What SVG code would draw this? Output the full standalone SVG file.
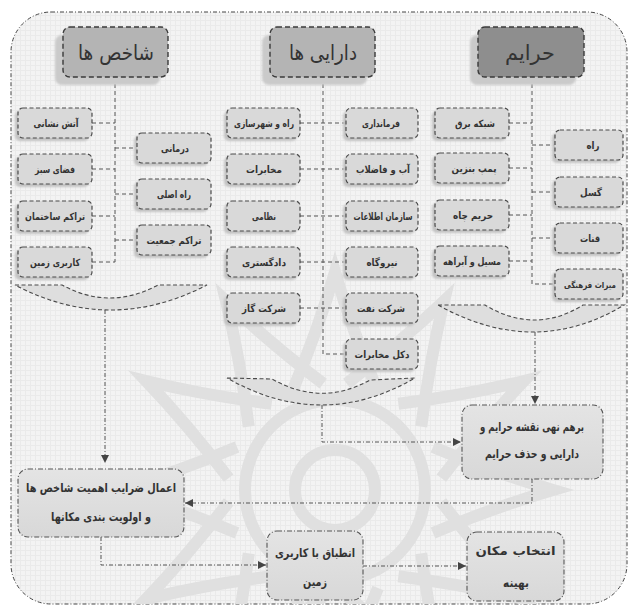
<svg xmlns="http://www.w3.org/2000/svg" xmlns:xlink="http://www.w3.org/1999/xlink" width="632" height="608" viewBox="0 0 632 608">
<defs>
<pattern id="grid" width="5" height="5" patternUnits="userSpaceOnUse">
<rect width="5" height="5" fill="#f3f3f3"/>
<path d="M0,0.5 H5 M0.5,0 V5" stroke="#eaeaea" stroke-width="1"/>
</pattern>
<marker id="arr" markerUnits="userSpaceOnUse" markerWidth="9" markerHeight="9" refX="8" refY="4.5" orient="auto">
<path d="M0,0.5 L8,4.5 L0,8.5 z" fill="#444"/>
</marker>
<filter id="blur" x="-20%" y="-20%" width="140%" height="140%"><feGaussianBlur stdDeviation="1.2"/></filter>
<linearGradient id="lg" x1="0" y1="0" x2="0" y2="1"><stop offset="0" stop-color="#e4e4e4"/><stop offset="1" stop-color="#d8d8d8"/></linearGradient>
<path id="petal" d="M292,392 Q318,330 335,272 Q352,330 378,392"/>
<clipPath id="fc"><rect x="11" y="12" width="616" height="592" rx="40"/></clipPath>
<style>
.frame{fill:url(#grid);stroke:#444;stroke-width:1;stroke-dasharray:4 2 1 2}
.hdr{stroke:#3a3a3a;stroke-width:1.4;stroke-dasharray:5 3}
.hsh{fill:#cacaca;filter:url(#blur)}
.box{fill:#d9d9d9;stroke:#4a4a4a;stroke-width:1.2;stroke-dasharray:4 2.5}
.shd{fill:#c3c3c3;filter:url(#blur)}
.big{fill:url(#lg);stroke:#555;stroke-width:1.1;stroke-dasharray:5 2 1 2}
.bowl{fill:#dedede;stroke:#4a4a4a;stroke-width:1.1;stroke-dasharray:4 2.5}
.conn{fill:none;stroke:#555;stroke-width:1;stroke-dasharray:4 3}
.arr{fill:none;stroke:#555;stroke-width:1;stroke-dasharray:4 2 1 2;marker-end:url(#arr)}
.wm{fill:none;stroke:#e0e0e0;stroke-width:12}
.t{font-family:"DejaVu Sans",sans-serif;font-weight:bold;font-size:10px;fill:#333;text-anchor:start}
.h{font-family:"DejaVu Sans",sans-serif;font-size:21px;fill:#333;text-anchor:start}
.b{font-family:"DejaVu Sans",sans-serif;font-weight:bold;font-size:12px;fill:#333;text-anchor:start}
</style>
</defs>
<rect x="0" y="0" width="632" height="608" fill="#ffffff"/>
<rect class="frame" x="11" y="12" width="616" height="592" rx="40"/>
<g id="watermark" clip-path="url(#fc)">
<use href="#petal" class="wm"/>
<use href="#petal" class="wm" transform="rotate(30 335 490)"/>
<use href="#petal" class="wm" transform="rotate(60 335 490)"/>
<use href="#petal" class="wm" transform="rotate(90 335 490)"/>
<use href="#petal" class="wm" transform="rotate(120 335 490)"/>
<use href="#petal" class="wm" transform="rotate(150 335 490)"/>
<use href="#petal" class="wm" transform="rotate(180 335 490)"/>
<use href="#petal" class="wm" transform="rotate(210 335 490)"/>
<use href="#petal" class="wm" transform="rotate(240 335 490)"/>
<use href="#petal" class="wm" transform="rotate(270 335 490)"/>
<use href="#petal" class="wm" transform="rotate(300 335 490)"/>
<use href="#petal" class="wm" transform="rotate(330 335 490)"/>
<circle class="wm" cx="335" cy="490" r="90"/>
<circle class="wm" cx="335" cy="490" r="40"/>
</g>

<g id="connectors">
<path class="conn" d="M115,77 V262 M92,123 H115 M92,169 H115 M92,216 H115 M92,262 H115 M115,148 H137 M115,194 H137 M115,240 H137"/>
<path class="conn" d="M323,77 V354 H346 M300,123 H346 M300,169 H346 M300,216 H346 M300,262 H346 M300,308 H346"/>
<path class="conn" d="M532,77 V284 H555 M509,123 H532 M509,168 H532 M509,215 H532 M509,261 H532 M532,145 H555 M532,192 H555 M532,238 H555"/>
<path class="arr" d="M105,310 V463"/>
<path class="arr" d="M322,405 V442 H461"/>
<path class="arr" d="M535,332 V404"/>
<path class="arr" d="M532,479 V503 H185"/>
<path class="arr" d="M101,537 V565 H266"/>
<path class="arr" d="M363,566 H466"/>
</g>

<g id="bowls">
<path id="bowl-shakhes" class="bowl" d="M15,285 L62,285 Q110,311 158,285 L207,285 Q110,335 15,285 Z"/>
<path id="bowl-darayi" class="bowl" d="M227,378 L272,379 Q322,407 370,380 L415,378 Q322,432 227,378 Z"/>
<path id="bowl-harim" class="bowl" d="M438,305 L485,305 Q535,335 583,305 L624,305 Q535,359 438,305 Z"/>
</g>

<g id="h-shakhes"><rect class="hsh" x="55" y="35" width="105" height="50" rx="7"/><rect class="hdr" x="63" y="27" width="105" height="50" rx="7" fill="#b4b4b4"/><text class="h" x="78" y="60" textLength="76" lengthAdjust="spacingAndGlyphs">شاخص ها</text></g>
<g id="h-darayi"><rect class="hsh" x="262" y="35" width="105" height="50" rx="7"/><rect class="hdr" x="270" y="27" width="105" height="50" rx="7" fill="#b4b4b4"/><text class="h" x="289" y="60" textLength="68" lengthAdjust="spacingAndGlyphs">دارایی ها</text></g>
<g id="h-harim"><rect class="hsh" x="470" y="35" width="106" height="50" rx="7"/><rect class="hdr" x="478" y="27" width="106" height="50" rx="7" fill="#8e8e8e"/><text class="h" x="505" y="60" textLength="50" lengthAdjust="spacingAndGlyphs">حرایم</text></g>

<g id="n-atash"><rect class="shd" x="15" y="111" width="74" height="30" rx="5"/><rect class="box" x="18" y="108" width="74" height="30" rx="5"/><text class="t" x="33.5" y="126.5" textLength="45" lengthAdjust="spacingAndGlyphs">آتش نشانی</text></g>
<g id="n-fazasabz"><rect class="shd" x="15" y="157" width="74" height="30" rx="5"/><rect class="box" x="18" y="154" width="74" height="30" rx="5"/><text class="t" x="35" y="172.5" textLength="40" lengthAdjust="spacingAndGlyphs">فضای سبز</text></g>
<g id="n-tarakom-sakhteman"><rect class="shd" x="15" y="204" width="74" height="30" rx="5"/><rect class="box" x="18" y="201" width="74" height="30" rx="5"/><text class="t" x="25" y="219.5" textLength="60" lengthAdjust="spacingAndGlyphs">تراکم ساختمان</text></g>
<g id="n-karbari"><rect class="shd" x="15" y="250" width="74" height="30" rx="5"/><rect class="box" x="18" y="247" width="74" height="30" rx="5"/><text class="t" x="30" y="265.5" textLength="50" lengthAdjust="spacingAndGlyphs">کاربری زمین</text></g>
<g id="n-darmani"><rect class="shd" x="134" y="136" width="74" height="30" rx="5"/><rect class="box" x="137" y="133" width="74" height="30" rx="5"/><text class="t" x="161" y="151.5" textLength="28" lengthAdjust="spacingAndGlyphs">درمانی</text></g>
<g id="n-rah-asli"><rect class="shd" x="134" y="182" width="74" height="30" rx="5"/><rect class="box" x="137" y="179" width="74" height="30" rx="5"/><text class="t" x="157" y="197.5" textLength="34" lengthAdjust="spacingAndGlyphs">راه اصلی</text></g>
<g id="n-tarakom-jamiat"><rect class="shd" x="134" y="228" width="74" height="30" rx="5"/><rect class="box" x="137" y="225" width="74" height="30" rx="5"/><text class="t" x="146.5" y="243.5" textLength="55" lengthAdjust="spacingAndGlyphs">تراکم جمعیت</text></g>

<g id="n-rah-shahrsazi"><rect class="shd" x="224" y="111" width="73" height="30" rx="5"/><rect class="box" x="227" y="108" width="73" height="30" rx="5"/><text class="t" x="234" y="126.5" textLength="60" lengthAdjust="spacingAndGlyphs">راه و شهرسازی</text></g>
<g id="n-mokhaberat"><rect class="shd" x="224" y="157" width="73" height="30" rx="5"/><rect class="box" x="227" y="154" width="73" height="30" rx="5"/><text class="t" x="246" y="172.5" textLength="36" lengthAdjust="spacingAndGlyphs">مخابرات</text></g>
<g id="n-nezami"><rect class="shd" x="224" y="204" width="73" height="30" rx="5"/><rect class="box" x="227" y="201" width="73" height="30" rx="5"/><text class="t" x="252" y="219.5" textLength="24" lengthAdjust="spacingAndGlyphs">نظامی</text></g>
<g id="n-dadgostari"><rect class="shd" x="224" y="250" width="73" height="30" rx="5"/><rect class="box" x="227" y="247" width="73" height="30" rx="5"/><text class="t" x="242" y="265.5" textLength="44" lengthAdjust="spacingAndGlyphs">دادگستری</text></g>
<g id="n-sherkat-gaz"><rect class="shd" x="224" y="296" width="73" height="30" rx="5"/><rect class="box" x="227" y="293" width="73" height="30" rx="5"/><text class="t" x="242" y="311.5" textLength="44" lengthAdjust="spacingAndGlyphs">شرکت گاز</text></g>
<g id="n-farmandari"><rect class="shd" x="343" y="111" width="72" height="30" rx="5"/><rect class="box" x="346" y="108" width="72" height="30" rx="5"/><text class="t" x="362" y="126.5" textLength="38" lengthAdjust="spacingAndGlyphs">فرمانداری</text></g>
<g id="n-ab-fazelab"><rect class="shd" x="343" y="157" width="72" height="30" rx="5"/><rect class="box" x="346" y="154" width="72" height="30" rx="5"/><text class="t" x="356" y="172.5" textLength="54" lengthAdjust="spacingAndGlyphs">آب و فاضلاب</text></g>
<g id="n-ettelaat"><rect class="shd" x="343" y="204" width="72" height="30" rx="5"/><rect class="box" x="346" y="201" width="72" height="30" rx="5"/><text class="t" x="353.5" y="219.5" textLength="59" lengthAdjust="spacingAndGlyphs">سازمان اطلاعات</text></g>
<g id="n-niroogah"><rect class="shd" x="343" y="250" width="72" height="30" rx="5"/><rect class="box" x="346" y="247" width="72" height="30" rx="5"/><text class="t" x="366.5" y="265.5" textLength="31" lengthAdjust="spacingAndGlyphs">نیروگاه</text></g>
<g id="n-sherkat-naft"><rect class="shd" x="343" y="296" width="72" height="30" rx="5"/><rect class="box" x="346" y="293" width="72" height="30" rx="5"/><text class="t" x="357" y="311.5" textLength="48" lengthAdjust="spacingAndGlyphs">شرکت نفت</text></g>
<g id="n-dakal"><rect class="shd" x="343" y="342" width="72" height="30" rx="5"/><rect class="box" x="346" y="339" width="72" height="30" rx="5"/><text class="t" x="354.5" y="357.5" textLength="55" lengthAdjust="spacingAndGlyphs">دکل مخابرات</text></g>

<g id="n-shabake-bargh"><rect class="shd" x="432" y="111" width="74" height="30" rx="5"/><rect class="box" x="435" y="108" width="74" height="30" rx="5"/><text class="t" x="455" y="126.5" textLength="40" lengthAdjust="spacingAndGlyphs">شبکه برق</text></g>
<g id="n-pomp-benzin"><rect class="shd" x="432" y="156" width="74" height="30" rx="5"/><rect class="box" x="435" y="153" width="74" height="30" rx="5"/><text class="t" x="451.5" y="171.5" textLength="45" lengthAdjust="spacingAndGlyphs">پمپ بنزین</text></g>
<g id="n-harim-chah"><rect class="shd" x="432" y="203" width="74" height="30" rx="5"/><rect class="box" x="435" y="200" width="74" height="30" rx="5"/><text class="t" x="453" y="218.5" textLength="40" lengthAdjust="spacingAndGlyphs">حریم چاه</text></g>
<g id="n-masil"><rect class="shd" x="432" y="249" width="74" height="30" rx="5"/><rect class="box" x="435" y="246" width="74" height="30" rx="5"/><text class="t" x="443" y="264.5" textLength="58" lengthAdjust="spacingAndGlyphs">مسیل و آبراهه</text></g>
<g id="n-rah"><rect class="shd" x="552" y="133" width="68" height="30" rx="5"/><rect class="box" x="555" y="130" width="68" height="30" rx="5"/><text class="t" x="586.5" y="148.5" textLength="13" lengthAdjust="spacingAndGlyphs">راه</text></g>
<g id="n-gosal"><rect class="shd" x="552" y="180" width="68" height="30" rx="5"/><rect class="box" x="555" y="177" width="68" height="30" rx="5"/><text class="t" x="580" y="195.5" textLength="22" lengthAdjust="spacingAndGlyphs">گسل</text></g>
<g id="n-qanat"><rect class="shd" x="552" y="226" width="68" height="30" rx="5"/><rect class="box" x="555" y="223" width="68" height="30" rx="5"/><text class="t" x="580" y="241.5" textLength="20" lengthAdjust="spacingAndGlyphs">قنات</text></g>
<g id="n-miras"><rect class="shd" x="552" y="272" width="68" height="30" rx="5"/><rect class="box" x="555" y="269" width="68" height="30" rx="5"/><text class="t" x="564" y="287.5" textLength="52" lengthAdjust="spacingAndGlyphs" style="font-size:8.5px">میراث فرهنگی</text></g>

<g id="n-emal"><rect class="big" x="18" y="469" width="166" height="68" rx="10"/><text class="b" x="26" y="492" textLength="150" lengthAdjust="spacingAndGlyphs">اعمال ضرایب اهمیت شاخص ها</text><text class="b" x="51" y="521" textLength="100" lengthAdjust="spacingAndGlyphs">و اولویت بندی مکانها</text></g>
<g id="n-barham"><rect class="big" x="462" y="405" width="141" height="74" rx="10"/><text class="b" x="480" y="431" textLength="104" lengthAdjust="spacingAndGlyphs">برهم نهی نقشه حرایم و</text><text class="b" x="485" y="458" textLength="94" lengthAdjust="spacingAndGlyphs">دارایی و حذف حرایم</text></g>
<g id="n-entebagh"><rect class="big" x="267" y="531" width="96" height="69" rx="10"/><text class="b" x="275" y="557" textLength="80" lengthAdjust="spacingAndGlyphs">انطباق با کاربری</text><text class="b" x="303" y="586" textLength="24" lengthAdjust="spacingAndGlyphs">زمین</text></g>
<g id="n-entekhab"><rect class="big" x="467" y="532" width="97" height="69" rx="10"/><text class="b" x="475.5" y="555" textLength="80" lengthAdjust="spacingAndGlyphs">انتخاب مکان</text><text class="b" x="503" y="587" textLength="26" lengthAdjust="spacingAndGlyphs">بهینه</text></g>
</svg>
